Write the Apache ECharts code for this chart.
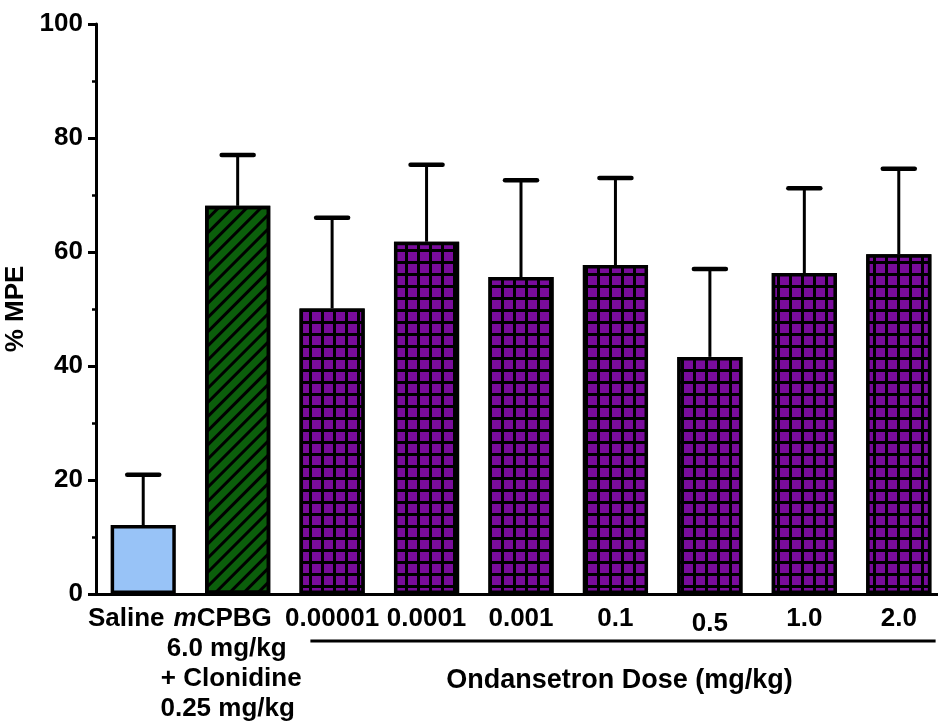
<!DOCTYPE html>
<html>
<head>
<meta charset="utf-8">
<script src="https://cdn.jsdelivr.net/npm/echarts@6/dist/echarts.min.js"></script>
<style>html,body{margin:0;padding:0;background:#fff;}#c{width:938px;height:723px;}</style>
</head>
<body>
<div id="c"></div>
<script>
var categories = ['Saline', 'mCPBG', '0.00001', '0.0001', '0.001', '0.1', '0.5', '1.0', '2.0'];
var means = [12.1, 68.1, 50.1, 61.8, 55.6, 57.7, 41.6, 56.3, 59.6];
var upper = [20.9, 77.0, 66.0, 75.3, 72.6, 73.0, 57.0, 71.2, 74.6];
var groups = ['saline', 'mcpbg', 'ond', 'ond', 'ond', 'ond', 'ond', 'ond', 'ond'];
var yTicks = [0, 20, 40, 60, 80, 100];

var FONT = 'Liberation Sans, Arial, sans-serif';
var FS = 26;
var LH = 30;
var PURPLE = '#7a0c9c';
var GREEN = '#0b5e0b';
var BLUE = '#98c3f7';

var styles = {
  saline: { color: BLUE, borderColor: '#000', borderWidth: 3.5 },
  mcpbg: {
    color: GREEN, borderColor: '#000', borderWidth: 3.5,
    decal: { symbol: 'rect', symbolSize: 1, color: '#000', dashArrayX: [1, 0], dashArrayY: [3, 7], rotation: -Math.PI / 4 }
  },
  ond: {
    color: '#000', borderColor: '#000', borderWidth: 3.5,
    decal: { symbol: 'rect', symbolSize: 1, color: PURPLE, dashArrayX: [8.5, 3], dashArrayY: [8.5, 3], rotation: 0 }
  }
};

var barData = means.map(function (v, i) {
  return { value: v, itemStyle: styles[groups[i]] };
});
var errData = means.map(function (v, i) { return [i, v, upper[i]]; });

function rs(extra) {
  var o = { fontFamily: FONT, fontWeight: 'bold', fontSize: FS, lineHeight: LH, color: '#000' };
  for (var k in extra) o[k] = extra[k];
  return o;
}

var chart = echarts.init(document.getElementById('c'));
chart.setOption({
  animation: false,
  backgroundColor: '#fff',
  grid: { left: 96, top: 24, height: 570, width: 850, containLabel: false, outerBoundsMode: 'none' },
  xAxis: {
    type: 'category',
    data: categories,
    axisLine: { lineStyle: { color: '#000', width: 3 } },
    axisTick: { show: false },
    axisLabel: {
      interval: 0,
      margin: 10,
      color: '#000',
      fontFamily: FONT,
      fontWeight: 'bold',
      fontSize: FS,
      lineHeight: LH,
      formatter: function (v) {
        if (v === 'mCPBG') {
          return '{i|m}{p1|CPBG}\n{p2|6.0 mg/kg}\n{p3|+ Clonidine}\n{p4|0.25 mg/kg}';
        }
        if (v === 'Saline') return '{sal|' + v + '}';
        if (v === '0.5') return '{low|' + v + '}';
        return '{b|' + v + '}';
      },
      rich: {
        b: rs({}),
        sal: rs({ padding: [0, 34, 0, 0] }),
        p1: rs({ padding: [0, 30, 0, 0] }),
        p2: rs({ padding: [0, 22, 0, 0] }),
        p3: rs({ padding: [0, 13, 0, 0] }),
        p4: rs({ padding: [0, 20, 0, 0] }),
        i: rs({ fontStyle: 'italic' }),
        low: rs({ padding: [9, 0, 0, 0] })
      }
    }
  },
  yAxis: {
    type: 'value',
    min: 0, max: 100, interval: 20,
    name: '% MPE',
    nameLocation: 'middle',
    nameGap: 53,
    nameRotate: 90,
    nameTextStyle: { color: '#000', fontFamily: FONT, fontWeight: 'bold', fontSize: FS },
    axisLine: { show: true, lineStyle: { color: '#000', width: 3 } },
    axisTick: { show: true, length: 8, lineStyle: { color: '#000', width: 3 } },
    minorTick: { show: true, splitNumber: 2, length: 4, lineStyle: { color: '#000', width: 2.5 } },
    splitLine: { show: false },
    axisLabel: {
      color: '#000', fontFamily: FONT, fontWeight: 'bold', fontSize: FS, margin: 13,
      formatter: function (v) { return yTicks.indexOf(v) >= 0 ? String(v) : ''; }
    }
  },
  series: [
    {
      type: 'custom',
      z: 1,
      data: errData,
      renderItem: function (params, api) {
        var b = api.coord([api.value(0), api.value(1)]);
        var t = api.coord([api.value(0), api.value(2)]);
        var hw = 16;
        return {
          type: 'group',
          children: [
            { type: 'line', shape: { x1: b[0], y1: b[1], x2: t[0], y2: t[1] }, style: { stroke: '#000', lineWidth: 3 } },
            { type: 'line', shape: { x1: t[0] - hw, y1: t[1], x2: t[0] + hw, y2: t[1] }, style: { stroke: '#000', lineWidth: 4.5, lineCap: 'round' } }
          ]
        };
      }
    },
    {
      type: 'bar',
      z: 2,
      barWidth: '69%',
      data: barData
    }
  ]
});

var p0 = chart.convertToPixel({ xAxisIndex: 0 }, categories[2]);
var p1 = chart.convertToPixel({ xAxisIndex: 0 }, categories[categories.length - 1]);
var band = chart.convertToPixel({ xAxisIndex: 0 }, categories[3]) - p0;
var lineY = chart.convertToPixel({ yAxisIndex: 0 }, 0) + 47;
chart.setOption({
  graphic: [
    { type: 'line', shape: { x1: p0 - band * 0.23, y1: lineY, x2: p1 + band * 0.39, y2: lineY }, style: { stroke: '#000', lineWidth: 3 } },
    { type: 'text', x: (p0 + p1) / 2 + 4, y: lineY + 40, style: { text: 'Ondansetron Dose (mg/kg)', fill: '#000', font: 'bold 27px ' + FONT, textAlign: 'center', textVerticalAlign: 'middle' } }
  ]
});
</script>
</body>
</html>
